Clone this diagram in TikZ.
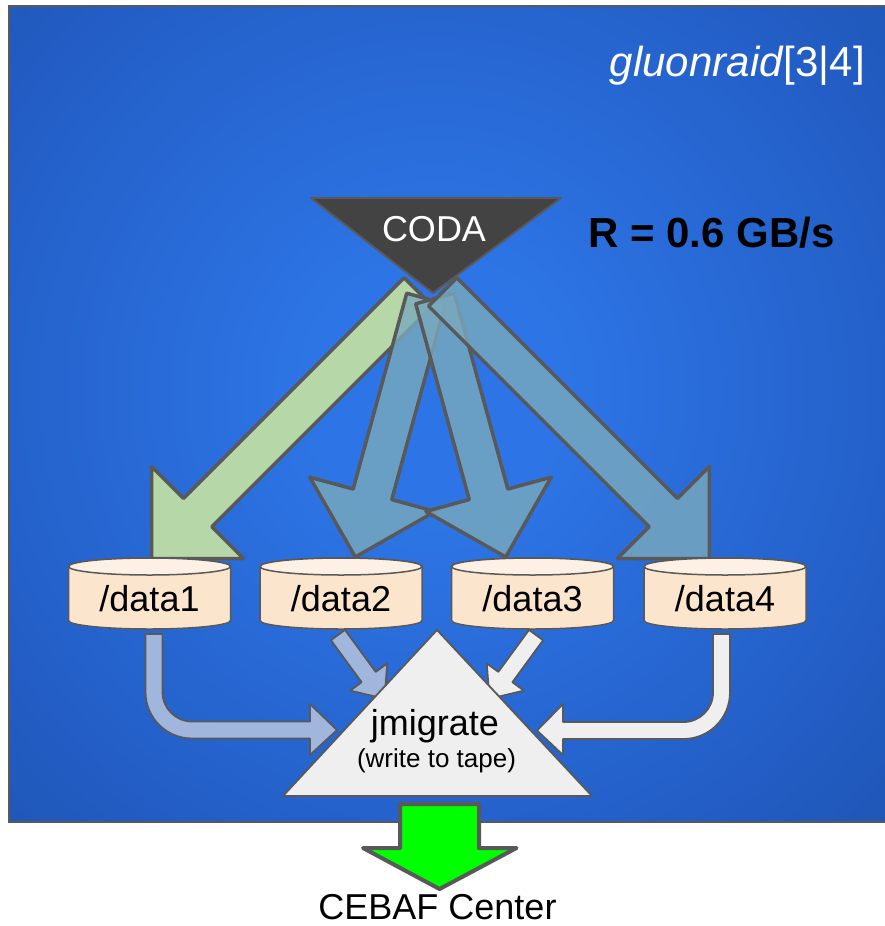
\documentclass[tikz,border=0pt]{standalone}
\usepackage{fontspec}
\setmainfont{Liberation Sans}
\usetikzlibrary{calc}

\definecolor{edgegray}{RGB}{89,89,89}
\definecolor{bgin}{RGB}{45,117,230}
\definecolor{bgmid}{RGB}{35,94,198}
\definecolor{bgdeep}{RGB}{26,76,160}
\definecolor{bgout}{RGB}{20,60,134}
\definecolor{codagray}{RGB}{67,67,67}
\definecolor{arrgreen}{RGB}{182,215,168}
\definecolor{arrblue}{RGB}{122,170,189}
\definecolor{flowblue}{RGB}{161,182,220}
\definecolor{flowgray}{RGB}{239,239,239}
\definecolor{diskbody}{RGB}{252,229,205}
\definecolor{disktop}{RGB}{253,240,228}
\definecolor{tapegray}{RGB}{239,239,239}
\definecolor{exitgreen}{RGB}{0,255,0}

% radial glow of the host panel (50bp = radius of the shaded disc)
\pgfdeclareradialshading{panelglow}{\pgfpoint{0bp}{0bp}}{%
  color(0bp)=(bgin); color(4.6bp)=(bgin); color(18.5bp)=(bgmid);
  color(31.4bp)=(bgdeep); color(46.2bp)=(bgout); color(50bp)=(bgout)}

% block arrow: style, tip, direction angle, total length
\newcommand\bigarrow[4]{%
  \begin{scope}[shift={#2},rotate=#3]
    \draw[#1] (0,0) -- (-65,65) -- (-65,20) -- (-#4,20) -- (-#4,-20)
      -- (-65,-20) -- (-65,-65) -- cycle;
  \end{scope}}
\newcommand\thinarrow[4]{%
  \begin{scope}[shift={#2},rotate=#3]
    \draw[#1] (0,0) -- (-27,23) -- (-27,8.75) -- (-#4,8.75) -- (-#4,-8.75)
      -- (-27,-8.75) -- (-27,-23) -- cycle;
  \end{scope}}
% disk cylinder: name, centre x, label
\newcommand\disk[3]{%
  \draw[diskline, fill=diskbody] (#2-81,566.5) -- (#2-81,620.5)
    arc[start angle=180, end angle=360, x radius=81pt, y radius=8.5pt]
    -- (#2+81,566.5)
    arc[start angle=0, end angle=180, x radius=81pt, y radius=8.5pt] -- cycle;
  \draw[diskline, fill=disktop] (#2,566.5) ellipse [x radius=81pt, y radius=8.5pt];
  \node[txt, anchor=base] (#1) at (#2,611.5) {#3};}

\begin{document}
\begin{tikzpicture}[x=1pt, y=-1pt,
  txt/.style={inner sep=0pt, font=\fontsize{36}{40}\selectfont},
  bigarr/.style={draw=edgegray, line width=3.5pt, line join=round},
  bluearr/.style={fill=arrblue, fill opacity=0.8},
  thin/.style={draw=edgegray, line width=1.8pt, line join=round},
  diskline/.style={draw=edgegray, line width=1.5pt}]
\useasboundingbox (0,0) rectangle (885,926);

% host panel
\begin{scope}
  \clip (8.5,6) rectangle (900,821.5);
  \shade[shading=panelglow] (435,390) circle (660);
\end{scope}
\draw[draw=edgegray, line width=2pt] (8.5,6) rectangle (900,821.5);
\node[txt, anchor=base east, text=white, font=\fontsize{42}{46}\selectfont] (host) at (865,76) {\textit{gluonraid}[3|4]};

% CODA fan-out to the four disks
\bigarrow{bigarr, fill=arrgreen}{(151.7,558.5)}{225}{377}
\bigarrow{bigarr, bluearr}{(355.3,557)}{254.7}{268}
\bigarrow{bigarr, bluearr}{(505.7,557)}{285.3}{268}
\bigarrow{bigarr, bluearr}{(709.3,558.5)}{315}{377}

\draw[draw=edgegray, line width=2pt, fill=codagray, line join=round]
  (311,198) -- (561,198) -- (433,293) -- cycle;
\node[txt, anchor=base, text=white] (coda) at (434,241) {CODA};
\node[inner sep=0pt, anchor=base west, font=\bfseries\fontsize{42}{46}\selectfont] (rate) at (588,247) {R = 0.6 GB/s};

% disks to jmigrate
\draw[thin, fill=flowblue] (145.5,634) -- (145.5,692)
  .. controls (145.5,717.7) and (166.3,738.5) .. (192,738.5) -- (310,738.5)
  -- (310,755) -- (337,730) -- (310,704) -- (310,721.5) -- (192,721.5)
  .. controls (175.7,721.5) and (162.5,708.3) .. (162.5,692) -- (162.5,634) -- cycle;
\draw[thin, fill=flowgray] (713,634) -- (713,692.5)
  .. controls (713,708.8) and (699.8,722) .. (683.5,722) -- (563,722)
  -- (563,704) -- (537,730.5) -- (563,755) -- (563,739) -- (683.5,739)
  .. controls (709.2,739) and (730,718.2) .. (730,692.5) -- (730,634) -- cycle;
\thinarrow{thin, fill=flowblue}{(384.6,698.8)}{-53.8}{79}
\thinarrow{thin, fill=flowgray}{(489.4,698.8)}{-126.2}{79}

\disk{d1}{149.5}{/data1}
\disk{d2}{341}{/data2}
\disk{d3}{532.5}{/data3}
\disk{d4}{725}{/data4}

% jmigrate
\draw[thin, fill=tapegray] (437,630) -- (592,796) -- (283,796) -- cycle;
\node[txt, anchor=base] (jm) at (435,735) {jmigrate};
\node[inner sep=0pt, anchor=base, font=\fontsize{26}{30}\selectfont] (jmsub) at (436.5,767) {(write to tape)};

% out to tape
\draw[draw=edgegray, line width=4pt, fill=exitgreen, line join=round]
  (400,804) -- (479,804) -- (479,848) -- (516.5,848) -- (439.5,889)
  -- (363,848) -- (400,848) -- cycle;
\node[txt, anchor=base] (cebaf) at (437.5,919.5) {CEBAF Center};
\end{tikzpicture}
\end{document}
